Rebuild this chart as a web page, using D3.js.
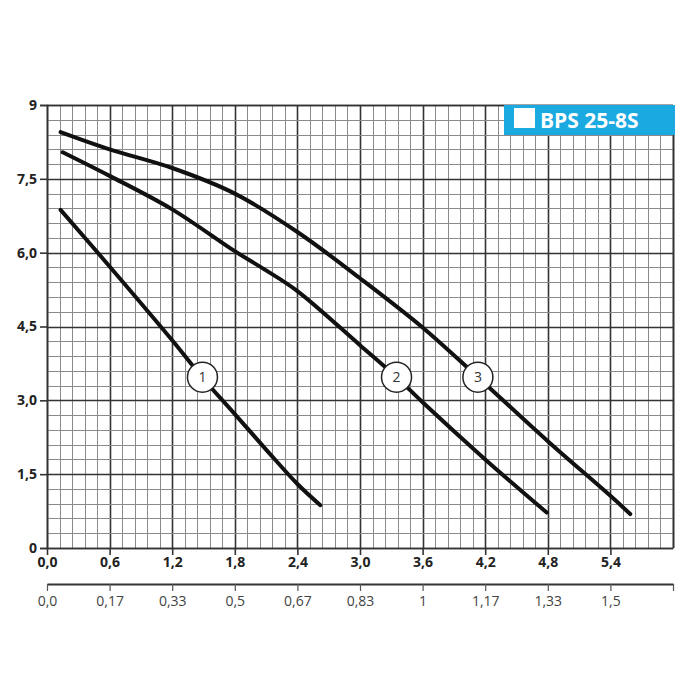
<!DOCTYPE html>
<html>
<head>
<meta charset="utf-8">
<script src="https://cdn.jsdelivr.net/npm/d3@7"></script>
<style>
  body { margin: 0; background: #fff; }
  svg text { font-family: "Open Sans", "DejaVu Sans", sans-serif; }
</style>
</head>
<body>
<div id="chart"></div>
<script>
// head (m) over flow (m3/h)
var curve1 = [[0.13,6.87],[0.6,5.72],[1.2,4.22],[1.49,3.46],[1.8,2.72],[2.1,2.0],[2.4,1.3],[2.62,0.87]];
var curve2 = [[0.15,8.04],[0.6,7.56],[1.2,6.88],[1.8,6.03],[2.1,5.64],[2.4,5.22],[3.0,4.12],[3.35,3.47],[3.6,2.96],[4.2,1.8],[4.79,0.72]];
var curve3 = [[0.13,8.45],[0.6,8.1],[1.2,7.72],[1.8,7.2],[2.4,6.42],[3.0,5.48],[3.6,4.48],[4.13,3.47],[4.8,2.17],[5.4,1.06],[5.59,0.69]];
var curves = [curve1, curve2, curve3];

// numbered markers on the curves
var markerNames = ["1", "2", "3"];
var markerX = [1.49, 3.35, 4.13];
var markerY = [3.47, 3.47, 3.47];

var yTicks = [0, 1.5, 3, 4.5, 6, 7.5, 9];
var yTickLabels = ["0", "1,5", "3,0", "4,5", "6,0", "7,5", "9"];
var xTicks = [0, 0.6, 1.2, 1.8, 2.4, 3.0, 3.6, 4.2, 4.8, 5.4];
var xTickLabels = ["0,0", "0,6", "1,2", "1,8", "2,4", "3,0", "3,6", "4,2", "4,8", "5,4"];
var x2TickLabels = ["0,0", "0,17", "0,33", "0,5", "0,67", "0,83", "1", "1,17", "1,33", "1,5"];
var title = "BPS 25-8S";

var width = 700, height = 700;
var mLeft = 47, mTop = 105, mRight = 673, mBottom = 548;

var svg = d3.select("#chart").append("svg")
  .attr("width", width)
  .attr("height", height);

var x = d3.scaleLinear().domain([0, 6]).range([mLeft, mRight]);
var y = d3.scaleLinear().domain([0, 9]).range([mBottom, mTop]);

// grid
var minorX = d3.range(0, 51).map(function(i) { return i * 0.12; });
var minorY = d3.range(0, 31).map(function(i) { return i * 0.3; });

var grid = svg.append("g").attr("class", "grid");
grid.selectAll(".vx").data(minorX).enter().append("line")
  .attr("x1", function(d) { return Math.round(x(d)) + 0.5; })
  .attr("x2", function(d) { return Math.round(x(d)) + 0.5; })
  .attr("y1", mTop).attr("y2", mBottom)
  .attr("stroke", function(d, i) { return i % 5 === 0 ? "#333" : "#8a8a8a"; })
  .attr("stroke-width", function(d, i) { return i % 5 === 0 ? 1.6 : 1; });
grid.selectAll(".hy").data(minorY).enter().append("line")
  .attr("y1", function(d) { return Math.round(y(d)) + 0.5; })
  .attr("y2", function(d) { return Math.round(y(d)) + 0.5; })
  .attr("x1", mLeft).attr("x2", mRight)
  .attr("stroke", function(d, i) { return i % 5 === 0 ? "#333" : "#8a8a8a"; })
  .attr("stroke-width", function(d, i) { return i % 5 === 0 ? 1.6 : 1; });

// left axis
var yAxis = d3.axisLeft(y).tickValues(yTicks)
  .tickFormat(function(d, i) { return yTickLabels[i]; })
  .tickSize(7).tickPadding(3);
var gy = svg.append("g").attr("transform", "translate(" + mLeft + ",0)").call(yAxis);
gy.select(".domain").attr("stroke", "#333").attr("stroke-width", 1.6);
gy.selectAll(".tick line").attr("stroke", "#333").attr("stroke-width", 1.6);
gy.selectAll("text").attr("font-size", 14).attr("font-weight", "bold").attr("fill", "#222");

// bottom axis (m3/h)
var xAxis = d3.axisBottom(x).tickValues(xTicks)
  .tickFormat(function(d, i) { return xTickLabels[i]; })
  .tickSize(7).tickSizeOuter(0).tickPadding(2);
var gx = svg.append("g").attr("transform", "translate(0," + mBottom + ")").call(xAxis);
gx.select(".domain").attr("stroke", "#333").attr("stroke-width", 1.6);
gx.selectAll(".tick line").attr("stroke", "#333").attr("stroke-width", 1.6);
gx.selectAll("text").attr("font-size", 14).attr("font-weight", "bold").attr("fill", "#222");

// second axis (l/s)
var x2 = d3.scaleLinear().domain([0, 6 / 3.6]).range([mLeft, mRight]);
var x2Values = xTicks.map(function(d) { return d / 3.6; }).concat([6 / 3.6]);
var x2Axis = d3.axisBottom(x2).tickValues(x2Values)
  .tickFormat(function(d, i) { return x2TickLabels[i] || ""; })
  .tickSize(7).tickSizeOuter(0).tickPadding(5);
var gx2 = svg.append("g").attr("transform", "translate(0,584)").call(x2Axis);
gx2.select(".domain").attr("stroke", "#333").attr("stroke-width", 2);
gx2.selectAll(".tick line").attr("stroke", "#555").attr("stroke-width", 1.2);
gx2.selectAll("text").attr("font-size", 14).attr("fill", "#444");

// frame top & right
svg.append("line").attr("x1", mLeft).attr("x2", mRight).attr("y1", mTop + 0.5).attr("y2", mTop + 0.5)
  .attr("stroke", "#333").attr("stroke-width", 1.6);
svg.append("line").attr("x1", mRight + 0.5).attr("x2", mRight + 0.5).attr("y1", mTop).attr("y2", mBottom)
  .attr("stroke", "#333").attr("stroke-width", 1.6);

// curves
var line = d3.line()
  .x(function(d) { return x(d[0]); })
  .y(function(d) { return y(d[1]); })
  .curve(d3.curveCatmullRom.alpha(0.5));

svg.append("g").selectAll("path").data(curves).enter().append("path")
  .attr("d", line)
  .attr("fill", "none")
  .attr("stroke", "#111")
  .attr("stroke-width", 4)
  .attr("stroke-linecap", "round");

// numbered circles
var marks = svg.append("g").selectAll("g").data(markerNames).enter().append("g")
  .attr("transform", function(d, i) { return "translate(" + x(markerX[i]) + "," + y(markerY[i]) + ")"; });
marks.append("circle").attr("r", 15).attr("fill", "#fff").attr("stroke", "#222").attr("stroke-width", 1.5);
marks.append("text").text(function(d) { return d; })
  .attr("text-anchor", "middle").attr("dy", "0.35em")
  .attr("font-size", 14).attr("fill", "#333");

// title box
var box = svg.append("g");
box.append("rect").attr("x", 504).attr("y", 105).attr("width", 171).attr("height", 30).attr("fill", "#1ba9e1");
box.append("rect").attr("x", 514).attr("y", 108).attr("width", 21).attr("height", 20).attr("fill", "#fff");
box.append("text").attr("x", 540).attr("y", 128).text(title)
  .attr("font-size", 21).attr("font-weight", "bold").attr("fill", "#fff");
</script>
</body>
</html>
